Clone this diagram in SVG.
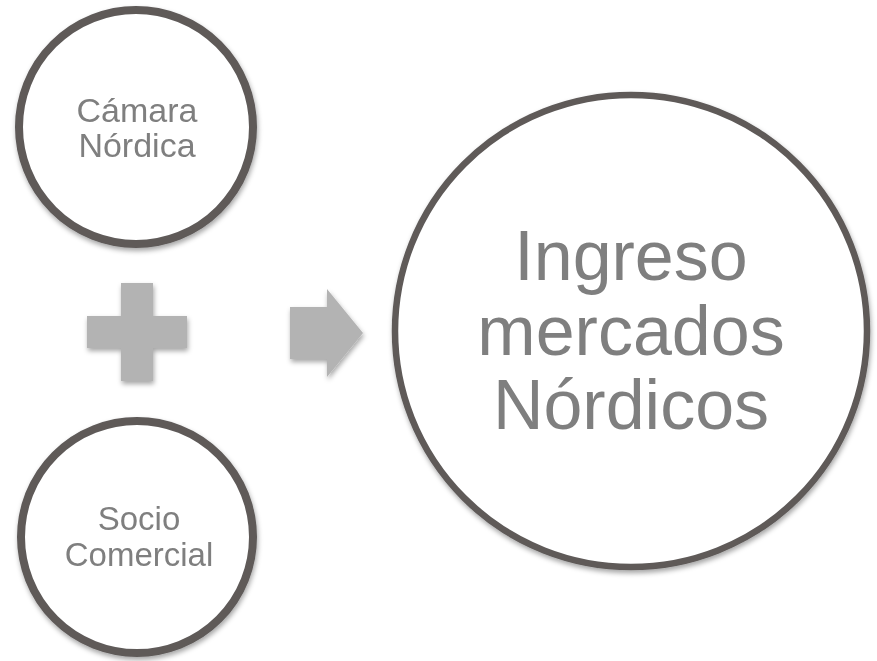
<svg xmlns="http://www.w3.org/2000/svg" width="877" height="661" viewBox="0 0 877 661">
  <style>
    .ring { fill: #ffffff; stroke: #5e5a59; }
    .lbl { font-family: "Liberation Sans", Arial, sans-serif; fill: #7f7f7f; text-anchor: middle; }
    .shape { fill: #b3b3b3; }
  </style>
  <defs>
    <filter id="sh" x="-20%" y="-20%" width="140%" height="140%">
      <feDropShadow dx="1" dy="3" stdDeviation="2.5" flood-color="#000000" flood-opacity="0.35"/>
    </filter>
  </defs>
  <rect width="877" height="661" fill="#ffffff"/>
  <g id="camara-nordica" filter="url(#sh)">
    <circle class="ring" cx="136" cy="127" r="117" stroke-width="8"/>
    <text class="lbl" x="137" y="122" font-size="34">Cámara</text>
    <text class="lbl" x="137" y="157" font-size="34">Nórdica</text>
  </g>
  <g id="socio-comercial" filter="url(#sh)">
    <circle class="ring" cx="137" cy="537" r="116" stroke-width="8"/>
    <text class="lbl" x="139" y="530" font-size="33">Socio</text>
    <text class="lbl" x="139" y="566" font-size="33">Comercial</text>
  </g>
  <g id="ingreso" filter="url(#sh)">
    <circle class="ring" cx="631" cy="331" r="236" stroke-width="6.5"/>
    <text class="lbl" x="631" y="280" font-size="70">Ingreso</text>
    <text class="lbl" x="631" y="355" font-size="70">mercados</text>
    <text class="lbl" x="631" y="429" font-size="70">Nórdicos</text>
  </g>
  <g id="connectors" filter="url(#sh)">
    <path class="shape" d="M121 283 H153 V316 H187 V348 H153 V381 H121 V348 H87 V316 H121 Z"/>
    <path class="shape" d="M290 307 H327 V289 L363 333 L327 377 V359 H290 Z"/>
  </g>
</svg>
